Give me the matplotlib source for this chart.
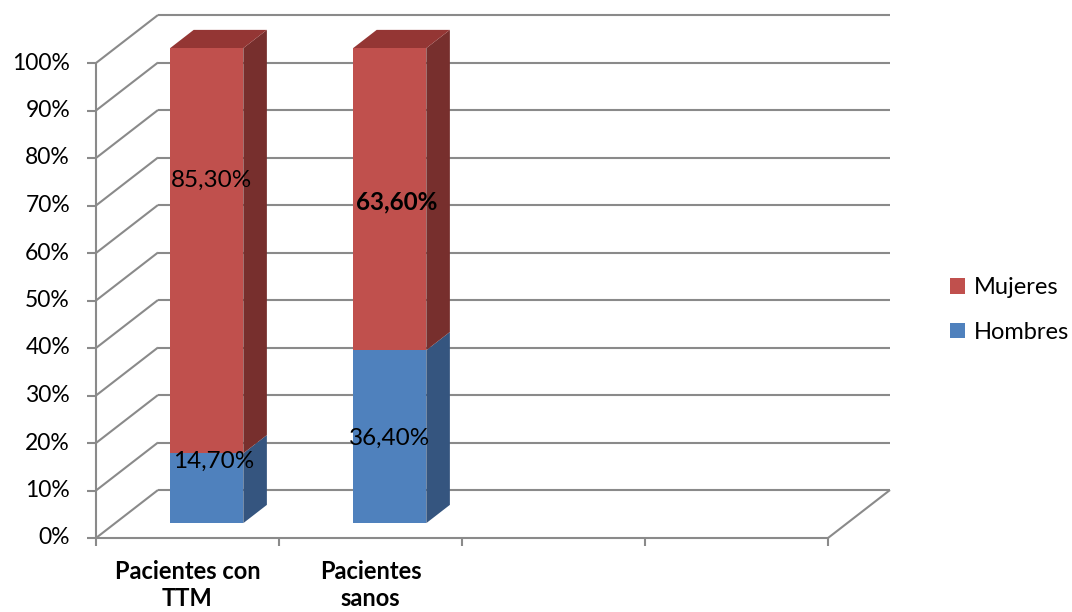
import matplotlib
matplotlib.use("Agg")
import matplotlib.pyplot as plt
from matplotlib.patches import Polygon, Patch

# Data
categories = ["Pacientes con\nTTM", "Pacientes\nsanos"]
hombres = [14.7, 36.4]
mujeres = [85.3, 63.6]
hombres_labels = ["14,70%", "36,40%"]
mujeres_labels = ["85,30%", "63,60%"]
ytick_values = [0, 10, 20, 30, 40, 50, 60, 70, 80, 90, 100]
ytick_labels = [f"{v}%" for v in ytick_values]
n_slots = 4

# Styling
FONT = "Lato"
GRID = "#8a8a8a"
RED = ("#C0504D", "#772F2D", "#943634")    # front, side, top
BLUE = ("#4F81BD", "#35557F", "#3F6797")

W, H = 1072, 612
fig = plt.figure(figsize=(W / 100, H / 100), dpi=100)
ax = fig.add_axes([0, 0, 1, 1])
ax.set_axis_off()

# pixel frame of the front plane
X0_PX, X4_PX = 96, 828
Y0_PX, Y100_PX = 538, 63
ux = n_slots / (X4_PX - X0_PX)           # data units per px (x)
uy = 100 / (Y0_PX - Y100_PX)             # data units per px (y)
ax.set_xlim(-X0_PX * ux, (W - X0_PX) * ux)
ax.set_ylim(-(H - Y0_PX) * uy, 100 + Y100_PX * uy)

# depth vector of the plot box
DX, DY = 62 * ux, 48 * uy


def proj(x, y, d):
    return (x + d * DX, y + d * DY)


gkw = dict(color=GRID, lw=1.5, solid_capstyle="butt", zorder=1)

# back wall gridlines and side wall diagonals
for v, lab in zip(ytick_values, ytick_labels):
    p0, p1 = proj(0, v, 1), proj(n_slots, v, 1)
    ax.plot([p0[0], p1[0]], [p0[1], p1[1]], **gkw)
    q0, q1 = proj(0, v, 0), proj(0, v, 1)
    ax.plot([q0[0], q1[0]], [q0[1], q1[1]], **gkw)
    # tick marks on the vertical axis
    ax.plot([-9 * ux, 0], [v, v], **gkw)
    ax.text(-26 * ux, v, lab, ha="right", va="center", fontsize=16.5,
            family=FONT, color="black")

# floor: front edge and right edge
ax.plot([0, n_slots], [0, 0], **gkw)
r0, r1 = proj(n_slots, 0, 0), proj(n_slots, 0, 1)
ax.plot([r0[0], r1[0]], [r0[1], r1[1]], **gkw)
# vertical axis line
ax.plot([0, 0], [0, 100], **gkw)
# category tick marks
for i in range(n_slots + 1):
    ax.plot([i, i], [0, -8 * uy], **gkw)

# bars
D0, D1 = 0.31, 0.69
HALF = 0.2


def box(xc, y0, y1, cols, top):
    xl, xr = xc - HALF, xc + HALF
    front = [proj(xl, y0, D0), proj(xr, y0, D0), proj(xr, y1, D0), proj(xl, y1, D0)]
    side = [proj(xr, y0, D0), proj(xr, y0, D1), proj(xr, y1, D1), proj(xr, y1, D0)]
    ax.add_patch(Polygon(side, closed=True, fc=cols[1], ec="none", zorder=3))
    ax.add_patch(Polygon(front, closed=True, fc=cols[0], ec="none", zorder=4))
    if top:
        tp = [proj(xl, y1, D0), proj(xr, y1, D0), proj(xr, y1, D1), proj(xl, y1, D1)]
        ax.add_patch(Polygon(tp, closed=True, fc=cols[2], ec="none", zorder=3))


for i in range(len(categories)):
    xc = i + 0.5
    box(xc, 0, hombres[i], BLUE, False)
    box(xc, hombres[i], hombres[i] + mujeres[i], RED, True)

# value labels (x in px from the left edge, y in %)
lab_kw = dict(ha="center", va="center", fontsize=17.5, family=FONT, color="black", zorder=6)
h_pos = [(214, 16.2), (390, 21.0)]
m_pos = [(211, 75.4), (397, 70.7)]
m_bold = [False, True]
for i in range(len(categories)):
    hx, hy = h_pos[i]
    ax.text((hx - X0_PX) * ux, hy, hombres_labels[i], **lab_kw)
    mx, my = m_pos[i]
    ax.text((mx - X0_PX) * ux, my, mujeres_labels[i],
            fontweight="bold" if m_bold[i] else "normal", **lab_kw)

# category labels
for i, c in enumerate(categories):
    ax.text(i + 0.5, -22 * uy, c, ha="center", va="top", fontsize=17,
            family=FONT, fontweight="bold", linespacing=1.2)

# legend
handles = [Patch(fc=RED[0], ec="none"), Patch(fc=BLUE[0], ec="none")]
fig.legend(handles, ["Mujeres", "Hombres"], loc="center left",
           bbox_to_anchor=(950 / W, 1 - 310 / H), frameon=False,
           borderpad=0, borderaxespad=0,
           prop=dict(family=FONT, size=17), handlelength=0.64,
           handleheight=0.64, handletextpad=0.35, labelspacing=1.0)

fig.savefig("out.png", dpi=100)
